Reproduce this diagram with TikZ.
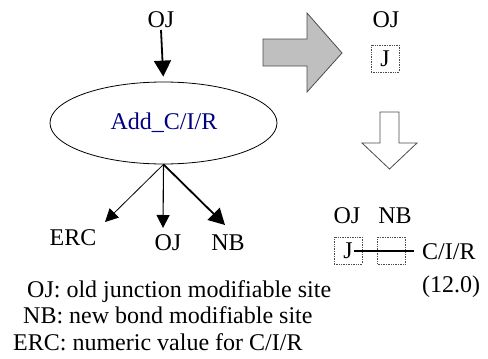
\documentclass[tikz,border=0pt]{standalone}
\usepackage{fontspec}
\setmainfont{Liberation Serif}
\usetikzlibrary{arrows.meta,shapes.geometric}
\definecolor{navyblue}{RGB}{0,0,128}
\tikzset{
  txt/.style={inner sep=0pt, anchor=base, font=\fontsize{24}{28}\selectfont},
  txtw/.style={txt, anchor=base west},
  bigtip/.style={-{Triangle[length=16pt,width=17pt]}},
  midtip/.style={-{Triangle[length=13pt,width=13pt]}},
  dotbox/.style={draw=black!70, densely dotted, line width=0.7pt, minimum width=28pt, minimum height=27pt, inner sep=0pt, font=\fontsize{24}{28}\selectfont},
}
\begin{document}
\begin{tikzpicture}[x=1pt,y=-1pt]
\useasboundingbox (0,0) rectangle (488,359);
% left part
\node[txt] (ojtop) at (161,27) {OJ};
\node[ellipse, draw, line width=0.8pt, minimum width=227pt, minimum height=82pt, inner sep=0pt] (ell) at (163.5,123) {};
\node[txt, text=navyblue] (add) at (164,129) {Add\_C/I/R};
\draw[line width=1.8pt, bigtip, shorten >=5pt] (ojtop.south |- 0,30) -- (ell.north);
\node[txt] (erc) at (73,245) {ERC};
\node[txt] (ojb) at (168,250) {OJ};
\node[txt] (nbb) at (228,250) {NB};
\coordinate (tl) at (105,222);
\coordinate (tm) at (163,228);
\coordinate (tr) at (225,225);
\draw[line width=0.8pt, midtip] (ell.south) -- (tl);
\draw[line width=1.1pt, midtip] (ell.south) -- (tm);
\draw[line width=1.8pt, bigtip] (ell.south) -- (tr);
% legend
\node[txtw] (l1) at (27,297) {OJ: old junction modifiable site};
\node[txtw] (l2) at (23,323) {NB: new bond modifiable site};
\node[txtw] (l3) at (13,350) {ERC: numeric value for C/I/R};
% gray block arrow
\draw[fill=black!25, draw=black!70, line width=0.8pt] (263,39) -- (307,39) -- (307,13) -- (342,53) -- (307,92) -- (307,66) -- (263,66) -- cycle;
% top right
\node[txt] (ojr) at (386,27) {OJ};
\node[dotbox] (jr) at (385,58.5) {J};
% white down arrow
\draw[fill=white, draw=black!70, line width=0.8pt] (380,112) -- (399,112) -- (399,143) -- (417,143) -- (389.5,169) -- (362,143) -- (380,143) -- cycle;
% bottom right
\node[txt] (ojb2) at (347,223) {OJ};
\node[txt] (nbb2) at (395,223) {NB};
\node[dotbox] (bj) at (348,250.5) {J};
\node[dotbox] (bn) at (391.5,250.5) {};
\node[txtw] (cir) at (422,259) {C/I/R};
\node[txtw] (val) at (422,292) {(12.0)};
\draw[line width=2pt, shorten <=6pt, shorten >=8pt] (bj.center) -- (bj.center -| cir.west);
\end{tikzpicture}
\end{document}
